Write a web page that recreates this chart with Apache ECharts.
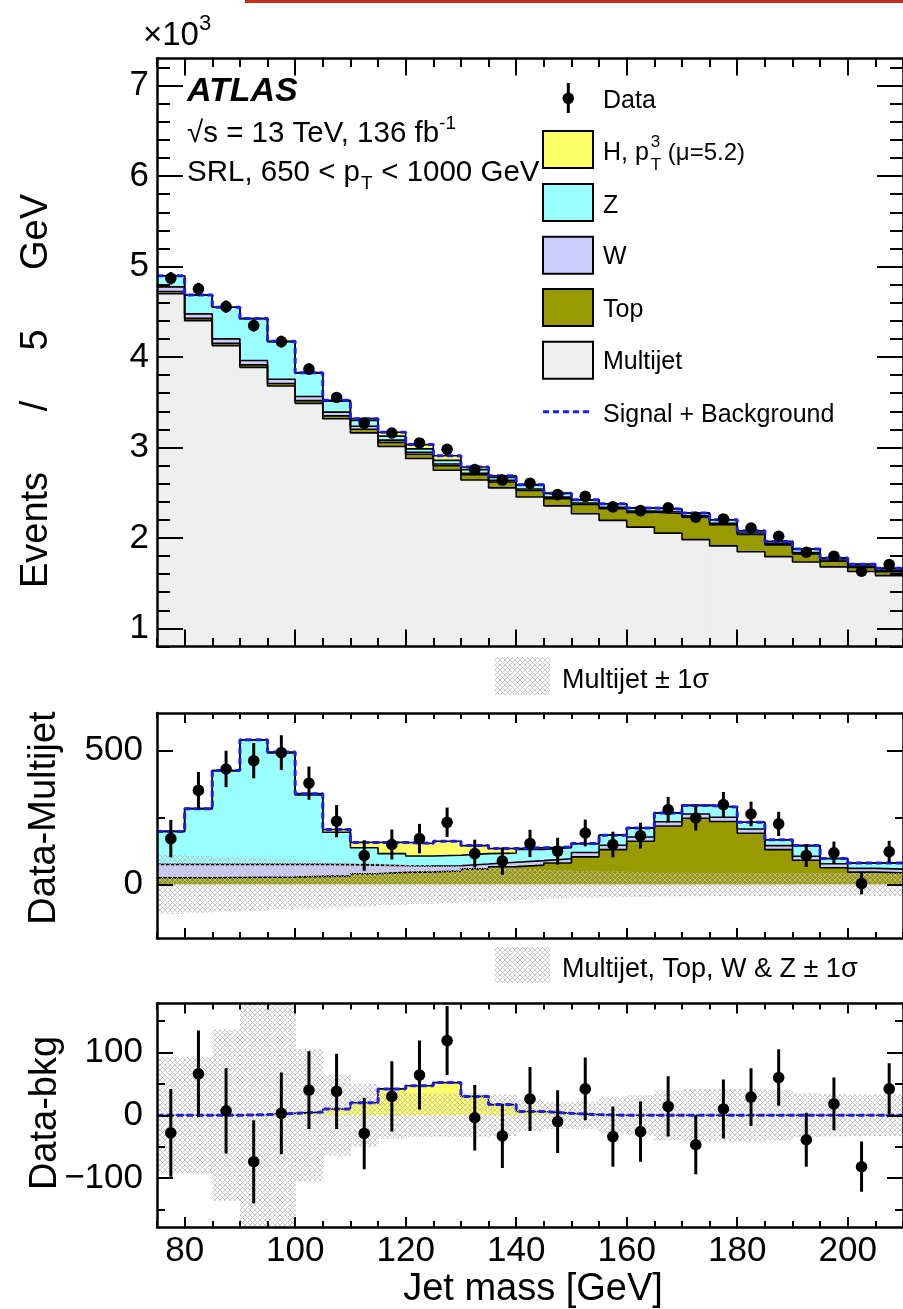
<!DOCTYPE html>
<html><head><meta charset="utf-8">
<script src="https://cdn.jsdelivr.net/npm/echarts@6/dist/echarts.min.js"></script>
<style>html,body{margin:0;padding:0;background:#fff}#c{width:903px;height:1309px}</style>
</head><body><div id="c"></div>
<script>
// ---------------- data ----------------
const binEdges = [75,80,85,90,95,100,105,110,115,120,125,130,135,140,145,150,155,160,165,170,175,180,185,190,195,200,205,210];
const xTickLabels = [80,100,120,140,160,180,200];
const dataEvents = [4871,4753,4557,4348,4171,3866,3553,3270,3160,3050,2980,2755,2640,2605,2479,2460,2343,2302,2332,2229,2210,2110,2019,1842,1798,1632,1706];
const dataErr = [70,69,68,66,65,62,60,57,56,55,55,52,51,51,50,50,48,48,48,47,47,46,45,43,42,40,41];
const multijet = [4700,4402,4126,3886,3679,3488,3317,3162,3011,2879,2748,2640,2553,2452,2355,2268,2194,2120,2053,1981,1912,1847,1793,1734,1680,1629,1584];
const topQuark = [25,25,26,27,28,30,32,40,45,47,50,58,66,72,80,103,130,161,218,247,235,191,130,90,62,46,43];
const wBoson = [50,50,49,48,47,45,42,32,25,22,20,18,17,17,16,16,16,16,16,16,16,16,15,15,15,14,14];
const zBoson = [123,208,350,464,416,259,121,65,45,37,39,39,34,42,41,33,38,34,33,32,38,25,22,40,20,20,23];
const higgs = [0,0,0,1,3,5,10,20,42,47,52,30,17,6,3,1,0,0,0,0,0,0,0,0,0,0,0];
const dataMinusMultijet = [171,351,431,462,492,378,236,108,149,171,232,115,87,153,124,192,149,182,279,248,298,263,226,108,118,3,122];
const dataMinusBkg = [-28,66,7,-74,3,40,38,-29,30,64,119,-4,-33,26,-10,42,-34,-26,14,-47,10,29,60,-39,18,-82,42];
const multijetUnc = [110,106,102,98,94,90,86,82,77,73,69,65,61,57,54,51,49,47,45,44,43,43,43,43,43,43,43];
const totalBkgUnc = [93,93,136,200,200,105,64,50,38,35,35,35,33,25,22,22,30,32,40,42,42,42,40,35,34,33,33];

// ---------------- helpers ----------------
const FONT = '"Liberation Sans", Arial, Helvetica, sans-serif';
const nBins = binEdges.length - 1;
const binCenters = binEdges.slice(0, -1).map((e, i) => (e + binEdges[i + 1]) / 2);
const xMinorTicks = [];
for (let v = 75; v <= 210; v += 5) if (xTickLabels.indexOf(v) < 0) xMinorTicks.push(v);
function stepData(vals) { return binEdges.map((e, i) => [e, vals[Math.min(i, nBins - 1)]]); }
function cumulative(layers) {
  const out = []; let acc = new Array(nBins).fill(0);
  layers.forEach(l => { acc = acc.map((a, i) => a + l[i]); out.push(acc.slice()); });
  return out;
}
const COLORS = {multijet:'#efefef', top:'#999900', w:'#ccccff', z:'#99ffff', h:'#ffff66', blue:'#1a1aff'};

// hatch pattern
const pc = document.createElement('canvas'); pc.width = 5; pc.height = 5;
const pctx = pc.getContext('2d');
pctx.strokeStyle = 'rgba(190,190,190,0.85)'; pctx.lineWidth = 1;
pctx.beginPath(); pctx.moveTo(0, 0); pctx.lineTo(5, 5); pctx.moveTo(5, 0); pctx.lineTo(0, 5); pctx.stroke();
const hatch = {image: pc, repeat: 'repeat'};

// ---------------- layout ----------------
const grids = [
  {left: 157, top: 58.5, width: 756, height: 588},
  {left: 157, top: 713, width: 756, height: 225},
  {left: 157, top: 1003.5, width: 756, height: 223.5}
];
const yRanges = [[800, 7300], [-200, 640], [-178, 178]];
const yMajor = [[1000,2000,3000,4000,5000,6000,7000], [0, 500], [-100, 0, 100]];
const yMinor = [[], [250], [-150, -50, 50, 150]];
for (let v = 800; v <= 7200; v += 200) if (v % 1000) yMinor[0].push(v);
const tickLen = [
  {xMaj: 17, xMin: 8.5, yMaj: 26, yMin: 13},
  {xMaj: 10, xMin: 6, yMaj: 16, yMin: 8},
  {xMaj: 10, xMin: 6, yMaj: 16, yMin: 8}
];
const lblStyle = {color: '#000', fontSize: 35, fontFamily: FONT};
const axLine = {show: true, onZero: false, lineStyle: {color: '#000', width: 2.5}};
const tkStyle = {color: '#000', width: 2};

const xAxis = [], yAxis = [];
grids.forEach((g, gi) => {
  const tl = tickLen[gi];
  ['bottom', 'top'].forEach(pos => {
    const showL = gi === 2 && pos === 'bottom';
    xAxis.push({type: 'value', gridIndex: gi, position: pos, min: 75, max: 210, z: 10,
      axisLine: axLine, splitLine: {show: false},
      axisTick: {show: true, inside: true, length: tl.xMaj, customValues: xTickLabels, lineStyle: tkStyle},
      axisLabel: {show: showL, customValues: xTickLabels, margin: 7, ...lblStyle}});
    xAxis.push({type: 'value', gridIndex: gi, position: pos, min: 75, max: 210, z: 10,
      axisLine: {show: false, onZero: false}, splitLine: {show: false},
      axisTick: {show: true, inside: true, length: tl.xMin, customValues: xMinorTicks, lineStyle: tkStyle},
      axisLabel: {show: false}});
  });
  ['left', 'right'].forEach(pos => {
    const showL = pos === 'left';
    yAxis.push({type: 'value', gridIndex: gi, position: pos, min: yRanges[gi][0], max: yRanges[gi][1], z: 10,
      axisLine: axLine, splitLine: {show: false},
      axisTick: {show: true, inside: true, length: tl.yMaj, customValues: yMajor[gi], lineStyle: tkStyle},
      axisLabel: {show: showL, customValues: yMajor[gi], margin: gi === 0 ? 8 : 14, ...lblStyle,
        formatter: v => gi === 0 ? String(v / 1000) : String(v).replace('-', '\u2212')}});
    yAxis.push({type: 'value', gridIndex: gi, position: pos, min: yRanges[gi][0], max: yRanges[gi][1], z: 10,
      axisLine: {show: false, onZero: false}, splitLine: {show: false},
      axisTick: {show: true, inside: true, length: tl.yMin, customValues: yMinor[gi], lineStyle: tkStyle},
      axisLabel: {show: false}});
  });
});

const series = [];
function ax(gi) { return {xAxisIndex: gi * 4, yAxisIndex: gi * 4}; }
function addStack(gi, layers, colors, base) {
  const cum = cumulative(layers);
  layers.forEach((l, k) => {
    const lo = k === 0 ? new Array(nBins).fill(base) : cum[k - 1];
    const col = colors[k];
    series.push({type: 'custom', ...ax(gi), z: 2, clip: true, silent: true,
      data: l.map((v, i) => [binEdges[i], binEdges[i + 1], lo[i], k === 0 ? l[i] : cum[k][i]]),
      encode: {x: [0, 1], y: [2, 3]},
      renderItem: (p, api) => {
        const a = api.coord([api.value(0), api.value(3)]);
        const b = api.coord([api.value(1), api.value(2)]);
        return {type: 'rect', shape: {x: a[0], y: a[1], width: b[0] - a[0] + 0.6, height: b[1] - a[1]}, style: {fill: col}};
      }});
  });
  cum.forEach(c => series.push({type: 'line', ...ax(gi), step: 'end', data: stepData(c), symbol: 'none',
    lineStyle: {color: '#000', width: 1.6}, z: 3, silent: true}));
  const total = cum[cum.length - 1];
  series.push({type: 'line', ...ax(gi), step: 'end', data: stepData(total), symbol: 'none',
    lineStyle: {color: COLORS.blue, width: 3, type: [6, 4]}, z: 5, silent: true});
}
function addBand(gi, unc) {
  series.push({type: 'custom', ...ax(gi), z: 4, clip: true, silent: true,
    data: unc.map((u, i) => [binEdges[i], binEdges[i + 1], u]),
    encode: {x: [0, 1], y: 2},
    renderItem: (p, api) => {
      const a = api.coord([api.value(0), api.value(2)]);
      const b = api.coord([api.value(1), -api.value(2)]);
      return {type: 'rect', shape: {x: a[0], y: a[1], width: b[0] - a[0] + 0.5, height: b[1] - a[1]}, style: {fill: hatch}};
    }});
}
function addPoints(gi, vals) {
  series.push({type: 'custom', ...ax(gi), z: 6, clip: true, silent: true,
    data: vals.map((v, i) => [binCenters[i], v, dataErr[i]]),
    encode: {x: 0, y: 1},
    renderItem: (p, api) => {
      const x = api.value(0), y = api.value(1), e = api.value(2);
      const c = api.coord([x, y]), hi = api.coord([x, y + e]), lo = api.coord([x, y - e]);
      return {type: 'group', children: [
        {type: 'line', shape: {x1: c[0], y1: hi[1], x2: c[0], y2: lo[1]}, style: {stroke: '#000', lineWidth: 3}},
        {type: 'circle', shape: {cx: c[0], cy: c[1], r: 5.8}, style: {fill: '#000'}}
      ]};
    }});
}
// top panel
addStack(0, [multijet, topQuark, wBoson, zBoson, higgs], [COLORS.multijet, COLORS.top, COLORS.w, COLORS.z, COLORS.h], yRanges[0][0]);
addPoints(0, dataEvents);
// middle panel
addStack(1, [topQuark, wBoson, zBoson, higgs], [COLORS.top, COLORS.w, COLORS.z, COLORS.h], 0);
addBand(1, multijetUnc);
addPoints(1, dataMinusMultijet);
// bottom panel
addStack(2, [higgs], [COLORS.h], 0);
addBand(2, totalBkgUnc);
addPoints(2, dataMinusBkg);

// ---------------- texts / legend ----------------
function font(size, weight, style) { return (style || 'normal') + ' ' + (weight || 'normal') + ' ' + size + 'px ' + FONT; }
const mctx = document.createElement('canvas').getContext('2d');
function tw(s, f) { mctx.font = f; return mctx.measureText(s).width; }
function txt(x, y, s, size, o) {
  o = o || {};
  return {type: 'text', x: x, y: y, rotation: o.rot || 0, z: 100,
    style: {text: s, font: font(size, o.weight, o.style), fill: '#000', align: o.align || 'left', verticalAlign: o.va || 'middle',
      textAlign: o.align || 'left', textVerticalAlign: o.va || 'middle'}};
}
const g = [];
g.push({type: 'rect', shape: {x: 245, y: 0, width: 658, height: 3}, style: {fill: '#c4301c'}, z: 100});
// x10^3
g.push(txt(143, 36, '\u00d710', 33));
g.push(txt(143 + tw('\u00d710', font(33)), 24, '3', 22));
// ATLAS label
g.push(txt(187, 92, 'ATLAS', 34, {weight: 'bold', style: 'italic'}));
const FS = 29.5;
const fS = font(FS);
const s1 = '\u221as = 13 TeV, 136 fb';
g.push(txt(187, 134, s1, FS));
g.push(txt(187 + tw(s1, fS), 124, '-1', 19));
const s2a = 'SRL, 650 < p';
g.push(txt(187, 173, s2a, FS));
const wA = tw(s2a, fS);
g.push(txt(187 + wA + 1, 184, 'T', 19));
g.push(txt(187 + wA + 13, 173, ' < 1000 GeV', FS));
// legend
const LX = 603, LF = 25;
g.push({type: 'line', shape: {x1: 568.3, y1: 83, x2: 568.3, y2: 113}, style: {stroke: '#000', lineWidth: 3}, z: 100});
g.push({type: 'circle', shape: {cx: 568.3, cy: 98.3, r: 5.8}, style: {fill: '#000'}, z: 100});
g.push(txt(LX, 101, 'Data', LF));
const boxes = [[131, COLORS.h], [184, COLORS.z], [236.7, COLORS.w], [289, COLORS.top], [341.7, COLORS.multijet]];
boxes.forEach(b => g.push({type: 'rect', shape: {x: 543, y: b[0], width: 50, height: 37}, style: {fill: b[1], stroke: '#000', lineWidth: 2}, z: 100}));
g.push(txt(LX, 153, 'H, p', LF));
const wH = tw('H, p', font(LF));
g.push(txt(LX + wH + 2, 142, '3', 17));
g.push(txt(LX + wH + 2, 165, 'T', 17));
g.push(txt(LX + wH + 19, 153, '(\u03bc=5.2)', 24));
g.push(txt(LX, 206, 'Z', LF));
g.push(txt(LX, 257, 'W', LF));
g.push(txt(LX, 310, 'Top', LF));
g.push(txt(LX, 362, 'Multijet', LF));
g.push({type: 'line', shape: {x1: 543, y1: 411.7, x2: 593, y2: 411.7}, style: {stroke: COLORS.blue, lineWidth: 3, lineDash: [6, 4]}, z: 100});
g.push(txt(LX, 415, 'Signal + Background', LF));
// sub legends
g.push({type: 'rect', shape: {x: 495, y: 657, width: 55, height: 38}, style: {fill: hatch}, z: 100});
g.push(txt(562, 681, 'Multijet \u00b1 1\u03c3', 27));
g.push({type: 'rect', shape: {x: 495, y: 947, width: 55, height: 36}, style: {fill: hatch}, z: 100});
g.push(txt(562, 970, 'Multijet, Top, W & Z \u00b1 1\u03c3', 27));
// axis titles (wide word spacing as in the reference)
g.push(txt(37, 530, 'Events', 38, {rot: Math.PI / 2, align: 'center'}));
g.push(txt(37, 406, '/', 38, {rot: Math.PI / 2, align: 'center'}));
g.push(txt(37, 340, '5', 38, {rot: Math.PI / 2, align: 'center'}));
g.push(txt(37, 232, 'GeV', 38, {rot: Math.PI / 2, align: 'center'}));
g.push(txt(45, 818, 'Data-Multijet', 38, {rot: Math.PI / 2, align: 'center'}));
g.push(txt(46, 1113, 'Data-bkg', 38, {rot: Math.PI / 2, align: 'center'}));
g.push(txt(533, 1290, 'Jet mass [GeV]', 38, {align: 'center'}));

const chart = echarts.init(document.getElementById('c'), null, {renderer: 'canvas', width: 903, height: 1309});
chart.setOption({
  animation: false,
  backgroundColor: '#fff',
  grid: grids.map(gr => ({...gr, containLabel: false, show: false})),
  xAxis: xAxis, yAxis: yAxis, series: series, graphic: {elements: g}
});
</script></body></html>
